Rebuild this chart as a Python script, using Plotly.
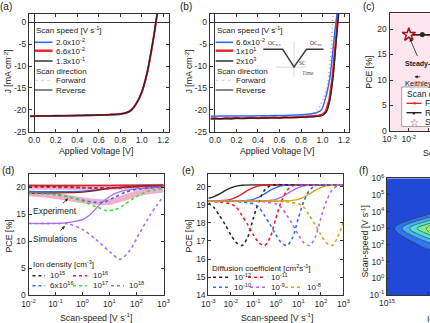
import plotly.graph_objects as go

W, H = 430, 323
FONT = "Liberation Sans, Arial, sans-serif"
SERIF = "Liberation Serif, Times New Roman, serif"

def px(x):
    return x / W

def py(y):
    return 1 - y / H

# ---------------- data ----------------
# (a) J-V, no hysteresis
va = [-0.04, 0.0, 0.1, 0.2, 0.3, 0.4, 0.5, 0.6, 0.7, 0.8, 0.85, 0.9, 0.95, 1.0, 1.05, 1.08, 1.1, 1.12, 1.13, 1.145, 1.16]
ja_blue = [-21.5, -21.48, -21.45, -21.42, -21.38, -21.34, -21.29, -21.23, -21.14, -20.99, -20.76, -20.18, -18.65, -16.15, -11.75, -7.95, -5.15, -2.15, -0.45, 2.0, 4.0]
ja_red = [-21.45, -21.43, -21.4, -21.37, -21.34, -21.3, -21.25, -21.19, -21.1, -20.95, -20.72, -20.12, -18.55, -16.0, -11.6, -7.8, -5.0, -2.0, -0.3, 2.1, 4.1]
ja_black = [-21.44, -21.42, -21.39, -21.36, -21.33, -21.29, -21.24, -21.18, -21.09, -20.94, -20.7, -20.1, -18.5, -15.9, -11.5, -7.7, -4.9, -1.9, -0.2, 2.2, 4.2]

# (b) J-V, three scan speeds
vb_blue = [-0.04, 0.0, 0.1, 0.2, 0.3, 0.4, 0.5, 0.6, 0.7, 0.8, 0.9, 0.95, 0.99, 1.04, 1.07, 1.094, 1.116, 1.126, 1.135]
jb_blue = [-21.45, -21.45, -21.43, -21.42, -21.4, -21.38, -21.35, -21.3, -21.25, -21.15, -20.9, -20.6, -20.0, -16.2, -12.4, -7.1, -1.8, 0.1, 2.2]
vb_red = [-0.04, 0.0, 0.05, 0.1, 0.15, 0.2, 0.25, 0.3, 0.35, 0.4, 0.45, 0.5, 0.55, 0.6, 0.65, 0.7, 0.75, 0.8, 0.85, 0.9, 0.95, 1.0, 1.03, 1.063, 1.094, 1.116, 1.132, 1.145, 1.155]
jb_red = [-22.0, -21.95, -22.1, -21.9, -22.0, -21.85, -21.98, -21.88, -21.8, -21.92, -21.78, -21.86, -21.72, -21.82, -21.68, -21.75, -21.6, -21.62, -21.55, -21.5, -21.4, -21.1, -20.4, -17.8, -12.4, -6.3, -1.0, 1.9, 4.0]
vb_black = [-0.04, 0.0, 0.1, 0.2, 0.3, 0.4, 0.5, 0.6, 0.7, 0.8, 0.9, 0.95, 1.0, 1.04, 1.07, 1.1, 1.12, 1.138, 1.15, 1.16]
jb_black = [-22.05, -22.02, -22.0, -21.97, -21.93, -21.9, -21.86, -21.82, -21.78, -21.72, -21.6, -21.5, -21.3, -20.3, -17.6, -12.2, -6.6, -1.0, 2.0, 4.0]
vb_red_fw = [0.7, 0.8, 0.88, 0.95, 1.014, 1.048, 1.07, 1.085, 1.094, 1.1]
jb_red_fw = [-21.6, -21.4, -21.2, -20.0, -17.1, -13.9, -9.4, -4.8, 0.1, 2.0]

# (c) PCE vs scan speed (measured)
c_speed = [0.01, 0.05, 0.3]
c_pce_fw = [18.8, 18.8, 18.6]
c_pce_rv = [18.9, 18.9, 18.9]
c_ss_speed = [0.01]
c_ss_pce = [18.9]

# (d) PCE vs scan speed for ion densities (log10 scan speed, PCE)
d_exp_fw_e = [-2, -1.5, -1, -0.5, 0, 0.5, 1, 1.5, 2, 2.5, 3]
d_exp_fw = [18.9, 18.7, 18.4, 18.0, 17.6, 17.3, 17.3, 18.0, 18.8, 19.3, 19.6]
d_exp_rv_e = [-2, -1, 0, 1, 2, 3]
d_exp_rv = [20.05, 20.0, 20.0, 20.0, 20.1, 20.2]
d15_rv_e = [-2, -1, 0, 1, 2, 3]
d15_rv = [20.35, 20.35, 20.35, 20.35, 20.35, 20.38]
d15_fw_e = [-2, -1, 0, 0.5, 1, 1.5, 2, 3]
d15_fw = [20.15, 20.1, 19.95, 19.85, 19.85, 19.95, 20.15, 20.3]
d16_rv_e = [-2, -1, 0, 1, 2, 3]
d16_rv = [20.28, 20.28, 20.3, 20.32, 20.35, 20.4]
d16_fw_e = [-2, -1, 0, 1, 2, 3]
d16_fw = [20.05, 20.0, 19.9, 19.8, 20.1, 20.3]
d6e16_rv_e = [-2, -1, 0, 0.5, 1, 1.5, 2, 3]
d6e16_rv = [19.2, 19.2, 19.3, 19.5, 19.8, 20.0, 20.15, 20.3]
d6e16_fw_e = [-2, -1.5, -1, -0.5, 0, 0.5, 0.8, 1.2, 1.6, 2, 2.5, 3]
d6e16_fw = [19.2, 19.0, 18.7, 18.2, 17.6, 17.2, 17.25, 18.2, 19.1, 19.6, 19.9, 20.1]
d17_rv_e = [-2, -1, 0, 0.5, 1, 1.5, 2, 3]
d17_rv = [18.9, 18.95, 19.1, 19.4, 19.8, 20.0, 20.15, 20.3]
d17_fw_e = [-2, -1.5, -1, -0.5, 0, 0.5, 0.9, 1.2, 1.5, 1.9, 2.4, 3]
d17_fw = [18.9, 18.8, 18.6, 18.2, 17.4, 16.4, 15.7, 15.85, 16.6, 18.0, 19.2, 19.8]
d18_rv_e = [-2, -1, -0.5, 0, 0.3, 0.6, 1.0, 1.4, 2, 3]
d18_rv = [13.3, 13.3, 13.5, 14.0, 15.0, 16.6, 18.3, 19.2, 19.7, 20.1]
d18_fw_e = [-2, -1, -0.5, 0, 0.5, 1.0, 1.4, 1.75, 2.1, 2.5, 2.75, 3]
d18_fw = [13.3, 13.3, 13.2, 12.2, 10.3, 8.1, 6.7, 8.3, 11.4, 14.8, 16.6, 18.4]

# (e) PCE vs scan speed for diffusion coefficients (log10 scan speed, PCE)
e12_fw_e = [-3, -2.75, -2.5, -2.25, -2.0, -1.75, -1.5, -1.25, -1.0, -0.75, -0.5, -0.25, 0, 1, 2, 3]
e12_fw = [19.1, 18.85, 18.4, 17.9, 17.35, 16.9, 16.75, 17.2, 18.25, 19.2, 19.8, 20.05, 20.1, 20.1, 20.1, 20.1]
e11_fw_e = [-3, -2.5, -2.0, -1.75, -1.5, -1.25, -1.0, -0.75, -0.5, -0.25, 0, 0.25, 0.5, 0.75, 1, 2, 3]
e11_fw = [19.2, 19.15, 19.05, 18.85, 18.4, 17.9, 17.35, 16.9, 16.75, 17.2, 18.25, 19.2, 19.8, 20.05, 20.1, 20.1, 20.1]
e10_fw_e = [-3, -2, -1.5, -1.0, -0.75, -0.5, -0.25, 0, 0.25, 0.5, 0.75, 1.0, 1.25, 1.5, 1.75, 2.0, 3]
e10_fw = [19.2, 19.2, 19.15, 19.05, 18.85, 18.4, 17.9, 17.35, 16.9, 16.75, 17.2, 18.25, 19.2, 19.8, 20.05, 20.1, 20.1]
e9_fw_e = [-3, -1, -0.5, 0, 0.25, 0.5, 0.75, 1.0, 1.25, 1.5, 1.75, 2.0, 2.25, 2.5, 2.75, 3]
e9_fw = [19.2, 19.2, 19.15, 19.05, 18.85, 18.4, 17.9, 17.35, 16.9, 16.75, 17.2, 18.25, 19.2, 19.8, 20.05, 20.1]
e8_fw_e = [-3, 0, 0.5, 1.0, 1.25, 1.5, 1.75, 2.0, 2.25, 2.5, 2.75, 3]
e8_fw = [19.2, 19.2, 19.15, 19.05, 18.85, 18.4, 17.9, 17.35, 16.9, 16.75, 17.2, 18.05]
e12_rv_e = [-3, -2.75, -2.5, -2.25, -2.0, -1.75, -1.5, -1.0, 3]
e12_rv = [19.35, 19.45, 19.6, 19.78, 19.93, 20.03, 20.08, 20.1, 20.1]
e11_rv_e = [-3, -2.5, -2.0, -1.75, -1.5, -1.25, -1.0, -0.75, -0.5, 0, 3]
e11_rv = [19.2, 19.22, 19.3, 19.42, 19.6, 19.8, 19.95, 20.05, 20.08, 20.1, 20.1]
e10_rv_e = [-3, -1.5, -1.0, -0.75, -0.5, -0.25, 0, 0.25, 0.5, 1, 3]
e10_rv = [19.2, 19.22, 19.3, 19.42, 19.6, 19.8, 19.95, 20.05, 20.08, 20.1, 20.1]
e9_rv_e = [-3, -0.5, 0, 0.25, 0.5, 0.75, 1.0, 1.25, 1.5, 2, 3]
e9_rv = [19.2, 19.22, 19.3, 19.42, 19.6, 19.8, 19.95, 20.05, 20.08, 20.1, 20.1]
e8_rv_e = [-3, 0.5, 1.0, 1.25, 1.5, 1.75, 2.0, 2.25, 2.5, 3]
e8_rv = [19.2, 19.22, 19.3, 19.42, 19.6, 19.8, 19.95, 20.05, 20.08, 20.1]

# (f) hysteresis map: log10 ion density x log10 scan speed
f_logN = [15, 16, 17, 18]
f_logS = [-1, 0, 1, 2, 3, 4, 5, 6]
f_z = [
    [0, 0, 0, 0],
    [0, 0, 0.2, 0],
    [0, 0.1, 0.8, 0.2],
    [0, 1.2, 4.0, 1.0],
    [0, 5.0, 9.0, 3.0],
    [0, 0.0, 3.0, 0.5],
    [0, 0, 0.3, 0],
    [0, 0, 0, 0],
]

# tick labels
v_ticks = [0, 0.2, 0.4, 0.6, 0.8, 1.0, 1.2]
v_ticktext = ["0.0", "0.2", "0.4", "0.6", "0.8", "1.0", "1.2"]
j_ticks = [-25, -20, -15, -10, -5, 0]
j_ticktext = ["-25", "-20", "-15", "-10", "-5", "0"]

C_BLUE = "#2f6cf5"
C_RED = "#ec1f2b"
C_BLACK = "#262626"
C_GREEN = "#2fe02f"
C_PURPLE = "#a66cf3"
C_GOLD = "#d9a21c"
C_PINK = "#f3a2c4"

fig = go.Figure()

def add_line(xa, ya, x, y, color, width=1.4, dash="solid", shape="spline", opacity=1.0):
    fig.add_trace(go.Scatter(
        x=x, y=y, xaxis=xa, yaxis=ya, mode="lines",
        line=dict(color=color, width=width, dash=dash, shape=shape, smoothing=0.8),
        opacity=opacity, hoverinfo="skip", showlegend=False))

def p10(e_list):
    return [10 ** e for e in e_list]

# (a)
add_line("x", "y", va, ja_blue, C_BLUE, 1.5)
add_line("x", "y", va, ja_red, C_RED, 2.0)
add_line("x", "y", va, ja_black, C_BLACK, 1.3)

# (b)
add_line("x2", "y2", vb_red_fw, jb_red_fw, "#f07a8a", 1.3, dash="1px,3px")
add_line("x2", "y2", vb_blue, jb_blue, C_BLUE, 1.5)
add_line("x2", "y2", vb_red, jb_red, C_RED, 2.2, shape="linear")
add_line("x2", "y2", vb_black, jb_black, C_BLACK, 1.3)

# (c)
fig.add_trace(go.Scatter(x=c_speed, y=c_pce_fw, xaxis="x3", yaxis="y3", mode="lines+markers",
                         line=dict(color=C_RED, width=1.4), marker=dict(color=C_RED, size=4),
                         hoverinfo="skip", showlegend=False))
fig.add_trace(go.Scatter(x=c_speed, y=c_pce_rv, xaxis="x3", yaxis="y3", mode="lines+markers",
                         line=dict(color=C_BLACK, width=1.4), marker=dict(color=C_BLACK, size=5),
                         hoverinfo="skip", showlegend=False))
fig.add_trace(go.Scatter(x=c_ss_speed, y=c_ss_pce, xaxis="x3", yaxis="y3", mode="markers",
                         marker=dict(symbol="star", size=10, color="#fbe2ec",
                                     line=dict(color="#a3141c", width=1.5)),
                         hoverinfo="skip", showlegend=False))

# (d)
add_line("x4", "y4", p10(d_exp_fw_e), d_exp_fw, C_PINK, 6, opacity=0.85)
add_line("x4", "y4", p10(d_exp_rv_e), d_exp_rv, C_PINK, 5, opacity=0.85)
add_line("x4", "y4", p10(d15_rv_e), d15_rv, C_BLACK, 1.3)
add_line("x4", "y4", p10(d16_rv_e), d16_rv, C_RED, 1.3)
add_line("x4", "y4", p10(d6e16_rv_e), d6e16_rv, C_BLUE, 1.3)
add_line("x4", "y4", p10(d17_rv_e), d17_rv, "#8a1f1f", 1.3)
add_line("x4", "y4", p10(d18_rv_e), d18_rv, C_PURPLE, 1.3)
add_line("x4", "y4", p10(d15_fw_e), d15_fw, C_BLACK, 1.6, dash="dot")
add_line("x4", "y4", p10(d16_fw_e), d16_fw, C_RED, 1.6, dash="dot")
add_line("x4", "y4", p10(d6e16_fw_e), d6e16_fw, C_BLUE, 1.6, dash="dot")
add_line("x4", "y4", p10(d17_fw_e), d17_fw, C_GREEN, 1.6, dash="dot")
add_line("x4", "y4", p10(d18_fw_e), d18_fw, C_PURPLE, 1.6, dash="dot")

# (e)
for ex, ey, col in [(e12_rv_e, e12_rv, C_BLACK), (e11_rv_e, e11_rv, C_RED), (e10_rv_e, e10_rv, C_BLUE),
                    (e9_rv_e, e9_rv, C_PURPLE), (e8_rv_e, e8_rv, C_GOLD)]:
    add_line("x5", "y5", p10(ex), ey, col, 1.4)
for ex, ey, col in [(e12_fw_e, e12_fw, C_BLACK), (e11_fw_e, e11_fw, C_RED), (e10_fw_e, e10_fw, C_BLUE),
                    (e9_fw_e, e9_fw, C_PURPLE), (e8_fw_e, e8_fw, C_GOLD)]:
    add_line("x5", "y5", p10(ex), ey, col, 1.6, dash="dot")

# (f)
fig.add_trace(go.Contour(
    x=f_logN, y=f_logS, z=f_z, xaxis="x6", yaxis="y6",
    zmin=0, zmax=9.406, autocontour=False,
    contours=dict(start=0.9406, end=8.4654, size=0.9406, coloring="fill",
                  showlabels=True, labelformat=".4g",
                  labelfont=dict(size=6.5, color="#111", family=FONT)),
    line=dict(color="#333", width=0.6),
    colorscale=[[0, "#2049d8"], [0.1, "#2d6ff0"], [0.2, "#45a8f5"], [0.3, "#50d8ec"],
                [0.4, "#5cf0b0"], [0.5, "#9cf060"], [0.6, "#d8f040"], [0.7, "#f8dc30"],
                [0.8, "#f8a020"], [0.9, "#f05010"], [1.0, "#c01010"]],
    showscale=False, hoverinfo="skip"))

# ---------------- axes ----------------
def axis(domain, rng, tickvals, ticktext, anchor, type_="linear", mirror="ticks", zeroline=False):
    return dict(domain=domain, range=rng, type=type_, tickvals=tickvals, ticktext=ticktext,
                anchor=anchor, showline=True, linecolor="#333", linewidth=1, mirror=mirror,
                ticks="inside", ticklen=3, tickwidth=0.8, tickcolor="#333", showgrid=False,
                zeroline=zeroline, zerolinecolor="#333", zerolinewidth=1,
                tickfont=dict(size=8.5, color="#2a2a2a", family=FONT), automargin=False,
                fixedrange=True)

def sup_ticks(exps):
    return ["10<sup>%d</sup>" % e for e in exps]

ydom_top = [py(131.7), py(14)]
fig.update_layout(
    xaxis=axis([px(28.9), px(168.6)], [-0.05, 1.25], v_ticks, v_ticktext, "y", zeroline=True),
    yaxis=axis(ydom_top, [-25, 1.9], j_ticks, j_ticktext, "x", zeroline=True),
    xaxis2=axis([px(209.6), px(349.4)], [-0.05, 1.25], v_ticks, v_ticktext, "y2", zeroline=True),
    yaxis2=axis(ydom_top, [-25, 1.9], j_ticks, j_ticktext, "x2", zeroline=True),
    xaxis3=axis([px(389.5), 1.0], [-3, -0.9016], [1e-3, 1e-2, 1e-1], sup_ticks([-3, -2, -1]), "y3",
                type_="log", mirror=True),
    yaxis3=axis([py(131), py(13.3)], [0, 23.08], [0, 5, 10, 15, 20], ["0", "5", "10", "15", "20"], "x3",
                mirror=False),
    xaxis4=axis([px(28.5), px(163.5)], [-2, 3], p10([-2, -1, 0, 1, 2, 3]), sup_ticks([-2, -1, 0, 1, 2, 3]),
                "y4", type_="log"),
    yaxis4=axis([py(295.3), py(174)], [0, 22.46], [0, 5, 10, 15, 20], ["0", "5", "10", "15", "20"], "x4"),
    xaxis5=axis([px(208.3), px(343.3)], [-3, 3], p10([-3, -2, -1, 0, 1, 2, 3]),
                sup_ticks([-3, -2, -1, 0, 1, 2, 3]), "y5", type_="log"),
    yaxis5=axis([py(295.3), py(174)], [14, 20.70], [14, 15, 16, 17, 18, 19, 20],
                ["14", "15", "16", "17", "18", "19", "20"], "x5"),
    xaxis6=axis([px(387), 1.0], [15, 16.075], [15, 16], sup_ticks([15, 16]), "y6", mirror=True),
    yaxis6=axis([py(295), py(178.3)], [-1, 6], [-1, 0, 1, 2, 3, 4, 5, 6], sup_ticks([-1, 0, 1, 2, 3, 4, 5, 6]),
                "x6", mirror=False),
)

# ---------------- decorations ----------------
shapes = []
shapes.append(dict(type="rect", xref="x3 domain", yref="y3 domain", x0=0, x1=1, y0=0, y1=1,
                   fillcolor="#fce5ef", line=dict(width=0), layer="below"))

def seg(x0, x1, y, color, width, dash="solid"):
    shapes.append(dict(type="line", xref="paper", yref="paper", x0=px(x0), x1=px(x1), y0=py(y), y1=py(y),
                       line=dict(color=color, width=width, dash=dash)))

anns = []

def ann(text, x, y, size=8, xanchor="left", yanchor="middle", color="#222", angle=0, family=FONT):
    anns.append(dict(text=text, x=px(x), y=py(y), xref="paper", yref="paper", showarrow=False,
                     xanchor=xanchor, yanchor=yanchor, textangle=angle,
                     font=dict(size=size, color=color, family=family)))

def arrow(hx, hy, tx, ty, color="#222"):
    anns.append(dict(text="", x=px(hx), y=py(hy), xref="paper", yref="paper", showarrow=True,
                     ax=tx - hx, ay=ty - hy, arrowhead=2, arrowsize=0.8, arrowwidth=0.8,
                     arrowcolor=color))

# panel letters
ann("(a)", 6, 6.5, 10, "center")
ann("(b)", 186, 6.5, 10, "center")
ann("(c)", 369, 6.5, 10, "center")
ann("(d)", 8, 170, 10, "center")
ann("(e)", 188, 170, 10, "center")
ann("(f)", 363.5, 170, 10, "center")

# axis titles
ann("J [mA cm<sup>-2</sup>]", 7.5, 72, 8.8, "center", angle=-90)
ann("J [mA cm<sup>-2</sup>]", 188.5, 72, 8.8, "center", angle=-90)
ann("PCE [%]", 368.7, 72, 8.8, "center", angle=-90)
ann("PCE [%]", 8.5, 236, 8.8, "center", angle=-90)
ann("PCE [%]", 188.5, 236, 8.8, "center", angle=-90)
ann("Scan-speed [V s<sup>-1</sup>]", 364.5, 242, 8.8, "center", angle=-90)
ann("Applied Voltage [V]", 96, 151, 8.8, "center")
ann("Applied Voltage [V]", 276.5, 151, 8.8, "center")
ann("Scan-speed [V s<sup>-1</sup>]", 420.5, 152, 8.8, "left")
ann("Scan-speed [V s<sup>-1</sup>]", 96, 316.5, 8.8, "center")
ann("Scan-speed [V s<sup>-1</sup>]", 277, 316.5, 8.8, "center")
ann("Ion density [cm<sup>-3</sup>]", 424.5, 317.5, 8.8, "left")

# legends (a) and (b)
for dx, labels in [(0, ["2.0x10<sup>-2</sup>", "6.6x10<sup>-2</sup>", "1.3x10<sup>-1</sup>"]),
                   (180.7, ["6.6x10<sup>-2</sup>", "1x10<sup>1</sup>", "2x10<sup>3</sup>"])]:
    ann("Scan speed [V s<sup>-1</sup>]", 34 + dx, 30, 8)
    seg(35 + dx, 52.5 + dx, 42.3, C_BLUE, 1.6)
    seg(35 + dx, 52.5 + dx, 50.7, C_RED, 2.4)
    seg(35 + dx, 52.5 + dx, 61, C_BLACK, 1.4)
    ann(labels[0], 53.5 + dx, 42, 8)
    ann(labels[1], 53.5 + dx, 50.5, 8)
    ann(labels[2], 53.5 + dx, 61, 8)
    ann("Scan direction", 34 + dx, 71, 8)
    seg(35 + dx, 52.5 + dx, 80.3, "#d8d8d8", 1.2, "dot")
    ann("Forward", 53.5 + dx, 80.3, 8)
    seg(35 + dx, 52.5 + dx, 90, "#555", 1.4)
    ann("Reverse", 53.5 + dx, 90, 8)

# inset waveform (b)
seg(276, 306, 67.2, "#cfcfcf", 0.8)
shapes.append(dict(type="line", xref="paper", yref="paper", x0=px(294), x1=px(294), y0=py(41.7), y1=py(76.7),
                   line=dict(color="#cfcfcf", width=0.8)))
path = "M %f,%f L %f,%f L %f,%f L %f,%f L %f,%f" % (
    px(263.3), py(49.3), px(282.7), py(49.3), px(294), py(67), px(306.5), py(49.3), px(323.5), py(49.3))
shapes.append(dict(type="path", xref="paper", yref="paper", path=path, line=dict(color="#3a3a3a", width=1.4)))
ann("OC<sub>rev</sub>", 274, 43.5, 5.5, "center", family=SERIF, color="#333")
ann("OC<sub>fw</sub>", 316, 43.5, 5.5, "center", family=SERIF, color="#333")
ann("SC", 302.5, 62.5, 5.5, "center", family=SERIF, color="#333")
ann("Time", 308, 72.5, 5.5, "center", family=SERIF, color="#555")

# (c) annotations and legend
ann("<b>Steady-state</b>", 402.5, 63.5, 7)
arrow(409.8, 38.5, 418, 57.5)
ann("Keithley", 402.5, 83.5, 7.5)
arrow(414.5, 76.8, 421.8, 76.8)
shapes.append(dict(type="rect", xref="paper", yref="paper", x0=px(401.7), x1=px(445), y0=py(126.5), y1=py(87),
                   line=dict(color="#8a8a8a", width=0.8), fillcolor="white"))
ann("Scan direction", 404.5, 94.3, 8.5)
seg(406.5, 421.5, 103.3, C_RED, 1.4)
ann("●", 414, 103.3, 5.5, "center", color=C_RED)
ann("Forward", 423, 103.3, 8.5)
seg(406.5, 421.5, 112.7, C_BLACK, 1.4)
ann("●", 414, 112.7, 6, "center", color=C_BLACK)
ann("Reverse", 423, 112.7, 8.5)
ann("☆", 414, 122.3, 10, "center", color="#a3141c", family="DejaVu Sans")
ann("Steady-state", 423, 122, 8.5)

# (d) annotations and legend
ann("Experiment", 55, 211, 8.5, "center")
arrow(68, 198.5, 61.5, 204.5)
ann("Simulations", 54.5, 239, 8.5, "center")
arrow(65, 226, 59, 232)
ann("Ion density [cm<sup>-3</sup>]", 31, 263.5, 8)
seg(32.5, 45, 275.7, C_BLACK, 1.6, "dot")
ann("10<sup>15</sup>", 48, 275, 8)
seg(73, 87, 275.7, C_RED, 1.6, "dot")
ann("10<sup>16</sup>", 91, 275, 8)
seg(32.5, 45, 285.7, C_BLUE, 1.6, "dot")
ann("6x10<sup>16</sup>", 48, 285, 8)
seg(73, 87, 285.7, C_GREEN, 1.6, "dot")
ann("10<sup>17</sup>", 91, 285, 8)
seg(111, 124, 285.7, C_PURPLE, 1.6, "dot")
ann("10<sup>18</sup>", 127, 285, 8)

# (e) legend
ann("Diffusion coefficient [cm<sup>2</sup>s<sup>-1</sup>]", 209.5, 267.5, 8)
seg(213, 230, 277.3, C_BLACK, 1.6, "dot")
ann("10<sup>-12</sup>", 232, 276.8, 8)
seg(248, 266, 277.3, C_RED, 1.6, "dot")
ann("10<sup>-11</sup>", 268.5, 276.8, 8)
seg(213, 230, 287.3, C_BLUE, 1.6, "dot")
ann("10<sup>-10</sup>", 232, 286.8, 8)
seg(250, 267, 287.3, C_PURPLE, 1.6, "dot")
ann("10<sup>-9</sup>", 268.5, 286.8, 8)
seg(285, 302, 287.3, C_GOLD, 1.6, "dot")
ann("10<sup>-8</sup>", 305, 286.8, 8)

fig.update_layout(
    width=W, height=H, margin=dict(l=0, r=0, t=0, b=0),
    paper_bgcolor="white", plot_bgcolor="rgba(0,0,0,0)",
    showlegend=False, shapes=shapes, annotations=anns,
    font=dict(family=FONT, size=8.5, color="#222"),
)

fig.write_html("out.html")
